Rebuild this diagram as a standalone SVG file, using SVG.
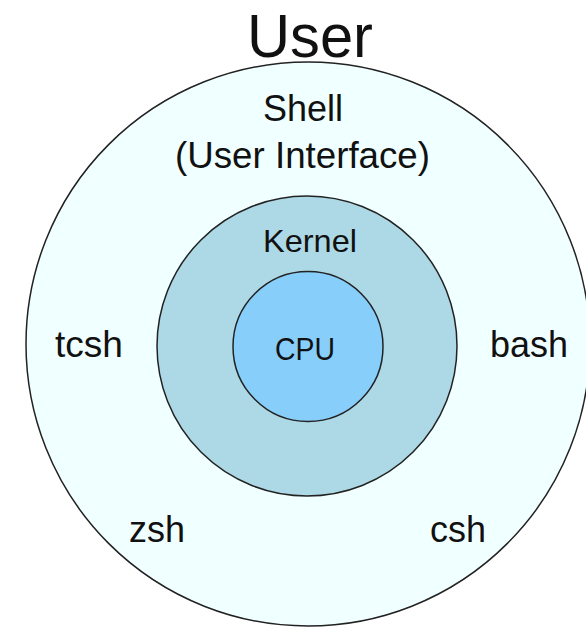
<svg xmlns="http://www.w3.org/2000/svg" width="586" height="627" viewBox="0 0 586 627">
<style>
.ring{stroke:#222;stroke-width:1.5}
.lbl{font-family:"Liberation Sans",Arial,sans-serif;fill:#111;text-anchor:middle;font-size:36px}
</style>
<rect width="586" height="627" fill="#ffffff"/>
<g id="user">
<text class="lbl" x="310" y="57" font-size="61" style="font-size:61px" textLength="126" lengthAdjust="spacingAndGlyphs">User</text>
</g>
<g id="shell">
<circle class="ring" cx="308" cy="344" r="282" fill="#f0ffff"/>
<text class="lbl" x="303" y="121" textLength="80" lengthAdjust="spacingAndGlyphs">Shell</text>
<text class="lbl" x="302.5" y="168" textLength="255" lengthAdjust="spacingAndGlyphs">(User Interface)</text>
</g>
<g id="tcsh"><text class="lbl" x="89" y="357" textLength="68" lengthAdjust="spacingAndGlyphs">tcsh</text></g>
<g id="bash"><text class="lbl" x="529" y="357" textLength="78" lengthAdjust="spacingAndGlyphs">bash</text></g>
<g id="zsh"><text class="lbl" x="157" y="542" textLength="56" lengthAdjust="spacingAndGlyphs">zsh</text></g>
<g id="csh"><text class="lbl" x="458" y="542" textLength="56" lengthAdjust="spacingAndGlyphs">csh</text></g>
<g id="kernel">
<circle class="ring" cx="307" cy="346" r="150" fill="#add8e6"/>
<text class="lbl" x="310" y="252" style="font-size:32px" textLength="94" lengthAdjust="spacingAndGlyphs">Kernel</text>
</g>
<g id="cpu">
<circle class="ring" cx="308" cy="346.5" r="75" fill="#87cefa"/>
<text class="lbl" x="305" y="360" style="font-size:32px" textLength="60" lengthAdjust="spacingAndGlyphs">CPU</text>
</g>
<g id="connectors"/>
</svg>
